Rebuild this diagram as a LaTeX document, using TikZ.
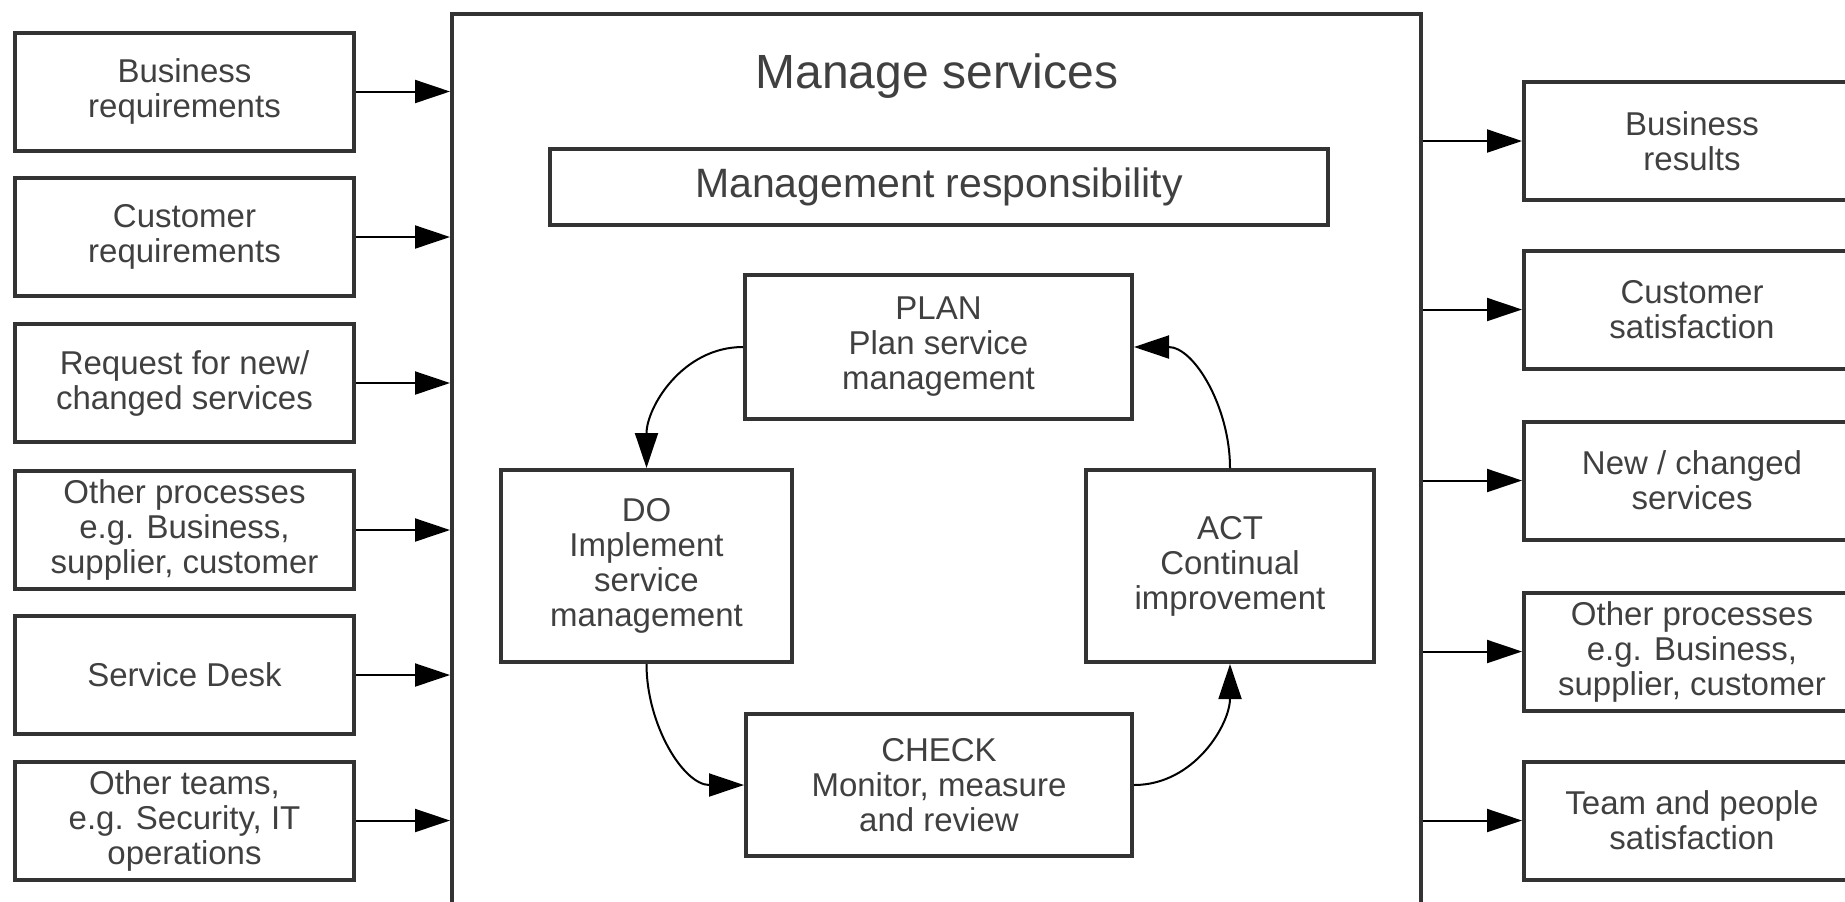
\documentclass[tikz,border=0pt]{standalone}
\usepackage{fontspec}
\setmainfont{Liberation Sans}
\usetikzlibrary{arrows.meta}
\definecolor{lgrey}{rgb}{0.2, 0.2, 0.2}
\definecolor{tgrey}{rgb}{0.25, 0.25, 0.25}

\begin{document}
\begin{tikzpicture}[x=0.5pt, y=-0.5pt,
    inbox/.style={draw=lgrey, line width=2pt, minimum width=169.5pt, minimum height=59pt,
      inner sep=0pt, align=center, text=tgrey, font=\fontsize{16.5}{17.5}\selectfont},
    outbox/.style={inbox, minimum width=168pt},
    flow/.style={black, line width=1pt, -{Triangle[length=17.5pt, width=11.5pt]}}]
      \useasboundingbox (0, 0) rectangle (1845, 901);
      \clip (0, 0) rectangle (1845, 901);
      % main frame
      \node [draw=lgrey, line width=2pt, minimum width=484.5pt, minimum height=488pt] (manage) at (936.5, 502) {};
      \node [anchor=base, text=tgrey, font=\fontsize{24}{26}\selectfont] (title) at (937, 88) {Manage services};
      \node [inbox, minimum width=389pt, minimum height=38pt, font=\fontsize{20.5}{22}\selectfont] (resp) at (939, 187) {Management responsibility};
      % inputs
      \node [inbox] (bizreq) at (184.5, 91.5) {Business\\requirements};
      \node [inbox] (custreq) at (184.5, 237) {Customer\\requirements};
      \node [inbox] (request) at (184.5, 383) {Request for new/\\changed services};
      \node [inbox] (otherin) at (184.5, 530) {Other processes\\e.g. Business,\\supplier, customer};
      \node [inbox] (desk) at (184.5, 675) {Service Desk};
      \node [inbox] (teams) at (184.5, 820.5) {Other teams,\\e.g. Security, IT\\operations};
      % outputs
      \node [outbox] (bizres) at (1692, 141) {Business\\results};
      \node [outbox] (custsat) at (1692, 309.5) {Customer\\satisfaction};
      \node [outbox] (newsvc) at (1692, 480.5) {New / changed\\services};
      \node [outbox] (otherout) at (1692, 651.5) {Other processes\\e.g. Business,\\supplier, customer};
      \node [outbox] (teamsat) at (1692, 820.5) {Team and people\\satisfaction};
      % PDCA cycle
      \node [inbox, minimum width=193.5pt, minimum height=72pt] (plan) at (938.5, 347) {PLAN\\Plan service\\management};
      \node [inbox, minimum width=145.5pt, minimum height=96pt] (do) at (646.5, 566) {DO\\Implement\\service\\management};
      \node [inbox, minimum width=144pt, minimum height=96pt] (act) at (1230, 566) {ACT\\Continual\\improvement};
      \node [inbox, minimum width=193pt, minimum height=71pt] (check) at (939, 785) {CHECK\\Monitor, measure\\and review};
      \draw [flow] (plan.west) to [out=180, in=90] (do.north);
      \draw [flow] (do.south) to [out=-90, in=180] (check.west);
      \draw [flow] (check.east) to [out=0, in=-90] (act.south);
      \draw [flow] (act.north) to [out=90, in=0] (plan.east);
      % arrows in and out
      \draw [flow] (bizreq.east) -- (bizreq.east -| manage.west);
      \draw [flow] (custreq.east) -- (custreq.east -| manage.west);
      \draw [flow] (request.east) -- (request.east -| manage.west);
      \draw [flow] (otherin.east) -- (otherin.east -| manage.west);
      \draw [flow] (desk.east) -- (desk.east -| manage.west);
      \draw [flow] (teams.east) -- (teams.east -| manage.west);
      \draw [flow] (bizres.west -| manage.east) -- (bizres.west);
      \draw [flow] (custsat.west -| manage.east) -- (custsat.west);
      \draw [flow] (newsvc.west -| manage.east) -- (newsvc.west);
      \draw [flow] (otherout.west -| manage.east) -- (otherout.west);
      \draw [flow] (teamsat.west -| manage.east) -- (teamsat.west);
    \end{tikzpicture}
\end{document}
